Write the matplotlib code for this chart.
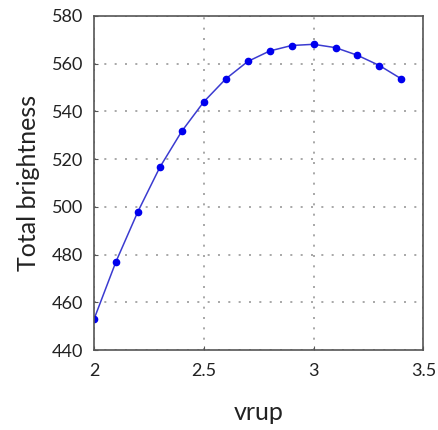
import numpy as np
import matplotlib
matplotlib.use('Agg')
import matplotlib.pyplot as plt

# values
vrup = [2.0, 2.1, 2.2, 2.3, 2.4, 2.5, 2.6, 2.7, 2.8, 2.9, 3.0, 3.1, 3.2, 3.3, 3.4]
brightness = [452.9, 477.0, 498.0, 516.6, 531.7, 544.0, 553.6, 560.9, 565.3,
              567.6, 568.1, 566.7, 563.5, 559.2, 553.6]

xticks = [2, 2.5, 3, 3.5]
xtick_labels = ['2', '2.5', '3', '3.5']
yticks = [440, 460, 480, 500, 520, 540, 560, 580]

plt.rcParams['font.family'] = ['Lato', 'DejaVu Sans']

fig = plt.figure(figsize=(4.38, 4.30), dpi=100)
ax = fig.add_axes([0.2146, 0.186, 0.752, 0.777])

ax.plot(vrup, brightness, '-', color='#3b3bd0', lw=1.1)
ax.plot(vrup, brightness, 'o', color='#0000ee', ms=4.5, mec='#0000ee')

ax.set_xlim(2, 3.5)
ax.set_ylim(440, 580)
ax.set_xticks(xticks)
ax.set_xticklabels(xtick_labels)
ax.set_yticks(yticks)

ax.grid(True, color='#999999', linestyle=(0, (1.2, 5)), lw=1.2)
for s in ax.spines.values():
    s.set_color('#555555')
    s.set_linewidth(1.2)
ax.tick_params(direction='in', length=3, color='#555555', labelsize=13,
               labelcolor='#222222', pad=8)
ax.tick_params(axis='x', pad=9)

ax.set_xlabel('vrup', fontsize=18, labelpad=16, color='#222222')
ax.set_ylabel('Total brightness', fontsize=18, labelpad=8, color='#222222')

fig.savefig('out.png', dpi=100)
